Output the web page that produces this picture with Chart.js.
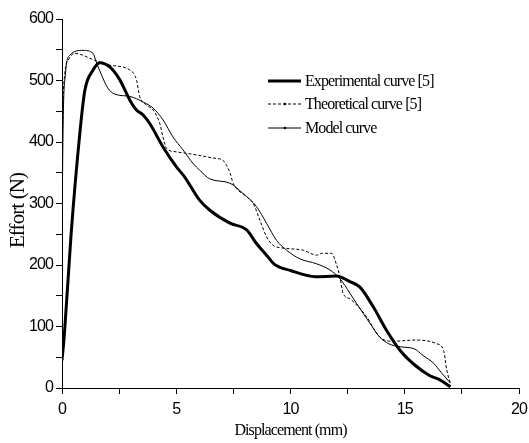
<!DOCTYPE html>
<html><head><meta charset="utf-8">
<script src="https://cdn.jsdelivr.net/npm/chart.js@4/dist/chart.umd.min.js"></script>
<style>html,body{margin:0;padding:0;background:#fff;}canvas{display:block;}</style>
</head><body>
<canvas id="c" width="529" height="443"></canvas>
<script>
// Experimental curve [5]
const expX = [0, 0.1, 0.4, 0.78, 1.0, 1.36, 1.65, 2.09, 2.53, 2.97, 3.26, 3.55, 3.84, 4.42, 5.0, 5.37, 6.03, 6.47, 7.35, 8.08, 8.51, 8.95, 9.3, 10.0, 11.1, 12.0, 12.6, 13.04, 13.62, 14.2, 14.8, 15.45, 16.1, 16.5, 17.0];
const expY = [45, 85, 251, 414, 484, 517, 529, 522, 501, 468, 452, 444, 430, 392, 360, 343, 305, 289, 268, 257, 235, 216, 201, 191, 181, 182, 173, 164, 132, 94, 61, 37, 20, 14, 2];
// Theoretical curve [5]
const theoX = [0, 0.03, 0.12, 0.3, 0.56, 1.43, 2.09, 2.97, 3.26, 3.4, 3.7, 3.99, 4.28, 4.42, 4.57, 5.0, 5.89, 6.6, 7.05, 7.2, 7.35, 7.49, 8.08, 8.37, 8.66, 8.95, 9.24, 9.83, 10.56, 11.14, 11.4, 11.8, 12.0, 12.16, 12.3, 12.6, 12.97, 13.33, 13.9, 14.5, 15.5, 16.4, 16.7, 16.84, 17.0];
const theoY = [250, 420, 510, 535, 544, 533, 525, 517, 501, 474, 460, 452, 430, 408, 390, 384, 379, 374, 370, 362, 350, 333, 311, 300, 273, 246, 232, 227, 224, 216, 219, 219, 202, 181, 154, 145, 132, 116, 83, 76, 78, 72, 61, 29, 7];
// Model curve
const modX = [0, 0.05, 0.15, 0.34, 0.92, 1.36, 1.5, 1.73, 2.0, 2.3, 2.97, 3.55, 3.99, 4.42, 4.86, 5.3, 5.74, 6.03, 6.47, 7.35, 7.93, 8.51, 8.95, 9.39, 9.83, 10.41, 11.14, 11.72, 12.16, 12.6, 12.9, 13.48, 13.9, 14.3, 14.8, 15.4, 15.8, 16.27, 16.6, 17.0];
const modY = [250, 430, 510, 541, 549, 544, 530, 509, 488, 478, 474, 465, 455, 436, 408, 387, 365, 354, 340, 333, 316, 295, 268, 240, 224, 210, 202, 192, 178, 154, 137, 105, 83, 72, 67, 64, 53, 40, 25, 8];

const seriesNames = ['Experimental curve [5]', 'Theoretical curve [5]', 'Model curve'];
const xTickLabels = [0, 5, 10, 15, 20];
const yTickLabels = [0, 100, 200, 300, 400, 500, 600];
const xTitle = 'Displacement (mm)';
const yTitle = 'Effort (N)\u2002 ';

const pts = (xs, ys) => xs.map((x, i) => ({x: x, y: ys[i]}));

const spacingPlugin = {
  id: 'spacing',
  beforeDraw(chart) { chart.ctx.letterSpacing = '-0.9px'; }
};

const legendPlugin = {
  id: 'customLegend',
  afterDraw(chart) {
    const ctx = chart.ctx;
    const rows = [
      {y: 81, w: 3, dash: [], marker: false},
      {y: 104, w: 1, dash: [3, 2], marker: true},
      {y: 128, w: 1, dash: [], marker: true}
    ];
    ctx.save();
    ctx.letterSpacing = '-0.9px';
    rows.forEach((r, i) => {
      ctx.strokeStyle = '#000';
      ctx.lineWidth = r.w;
      ctx.setLineDash(r.dash);
      ctx.beginPath();
      ctx.moveTo(268, r.y);
      ctx.lineTo(301, r.y);
      ctx.stroke();
      ctx.setLineDash([]);
      if (r.marker) {
        ctx.fillStyle = '#000';
        ctx.beginPath();
        ctx.arc(285, r.y, 1.3, 0, Math.PI * 2);
        ctx.fill();
      }
      ctx.fillStyle = '#000';
      ctx.font = '16px "Liberation Serif"';
      ctx.textBaseline = 'middle';
      ctx.textAlign = 'left';
      ctx.fillText(seriesNames[i], 305, r.y + 1);
    });
    ctx.restore();
  }
};

const tickFont = {family: '"Liberation Sans", Arial, sans-serif', size: 16};
const titleFontX = {family: '"Liberation Serif", serif', size: 16};
const titleFontY = {family: '"Liberation Serif", serif', size: 21};

new Chart(document.getElementById('c'), {
  type: 'line',
  data: {
    datasets: [
      {label: seriesNames[0], data: pts(expX, expY), borderColor: '#000', borderWidth: 3, pointRadius: 0, cubicInterpolationMode: 'monotone', fill: false},
      {label: seriesNames[1], data: pts(theoX, theoY), borderColor: '#000', borderWidth: 1, borderDash: [3, 2], pointRadius: 0, cubicInterpolationMode: 'monotone', fill: false},
      {label: seriesNames[2], data: pts(modX, modY), borderColor: '#000', borderWidth: 1, pointRadius: 0, cubicInterpolationMode: 'monotone', fill: false}
    ]
  },
  options: {
    responsive: false,
    animation: false,
    layout: {padding: {top: 19, right: 10, left: 0, bottom: 0}},
    plugins: {legend: {display: false}, tooltip: {enabled: false}},
    scales: {
      x: {
        type: 'linear', min: 0, max: 20,
        ticks: {stepSize: 2.5, autoSkip: false, maxRotation: 0, color: '#000', font: tickFont, padding: 6,
          callback: v => xTickLabels.includes(v) ? String(v) : ''},
        grid: {drawOnChartArea: false, drawTicks: true, tickLength: 6, tickColor: '#000', tickWidth: 1},
        border: {color: '#000', width: 1},
        title: {display: true, text: xTitle, color: '#000', font: titleFontX, padding: {top: 0, bottom: 3}},
        afterFit: s => { s.height = 55; s.paddingRight = 0; s.paddingLeft = 0; }
      },
      y: {
        type: 'linear', min: 0, max: 600,
        ticks: {stepSize: 50, autoSkip: false, color: '#000', font: tickFont, padding: 3,
          callback: v => yTickLabels.includes(v) ? String(v) : ''},
        grid: {drawOnChartArea: false, drawTicks: true, tickLength: 6, tickColor: '#000', tickWidth: 1},
        border: {color: '#000', width: 1},
        title: {display: true, text: yTitle, color: '#000', font: titleFontY, padding: {top: 6, bottom: 0}},
        afterFit: s => { s.width = 62; s.paddingTop = 0; s.paddingBottom = 0; }
      }
    }
  },
  plugins: [spacingPlugin, legendPlugin]
});
</script>
</body></html>
